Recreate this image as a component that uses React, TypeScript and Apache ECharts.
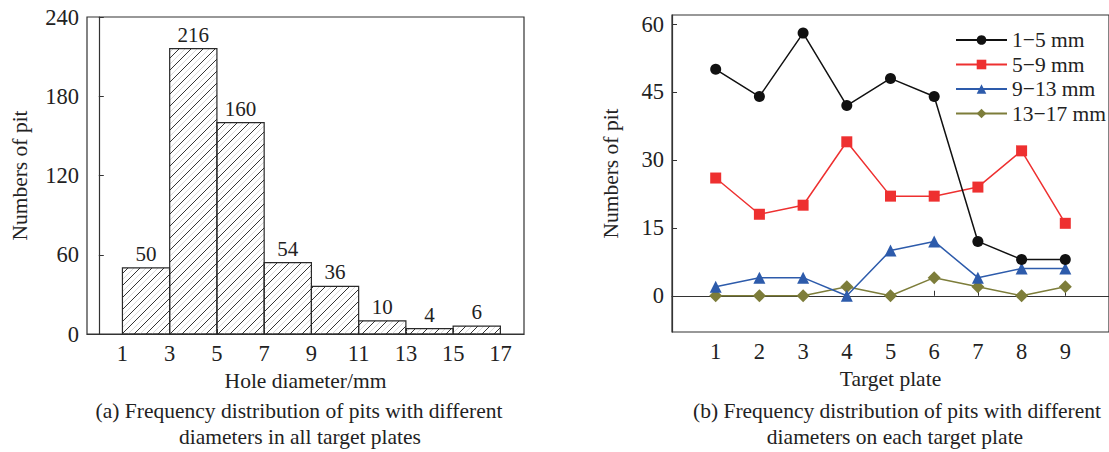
import React, { useEffect, useRef } from "react";
import * as echarts from "echarts";

// ---- Data ----
const binEdges = [1, 3, 5, 7, 9, 11, 13, 15, 17];
const binCounts = [50, 216, 160, 54, 36, 10, 4, 6];
const histYTicks = [0, 60, 120, 180, 240];

const plates = [1, 2, 3, 4, 5, 6, 7, 8, 9];
const s1to5 = [50, 44, 58, 42, 48, 44, 12, 8, 8];
const s5to9 = [26, 18, 20, 34, 22, 22, 24, 32, 16];
const s9to13 = [2, 4, 4, 0, 10, 12, 4, 6, 6];
const s13to17 = [0, 0, 0, 2, 0, 4, 2, 0, 2];
const lineYTicks = [0, 15, 30, 45, 60];

const seriesNames = ["1\u22125 mm", "5\u22129 mm", "9\u221213 mm", "13\u221217 mm"];

const FONT = "'Liberation Serif', 'Times New Roman', serif";
const AX = "#333";
const TXT = "#222";
const TICK_FS = 22.5;
const NAME_FS = 21.5;
const CAP_FS = 21.5;

export default function App() {
  const ref = useRef<HTMLDivElement>(null);

  useEffect(() => {
    if (!ref.current) return;
    const chart = echarts.init(ref.current, null, { renderer: "svg" });

    const histData = binCounts.map((v, i) => [binEdges[i], binEdges[i + 1], v]);

    const renderBar = (params: any, api: any) => {
      const x0 = api.value(0);
      const x1 = api.value(1);
      const v = api.value(2);
      const p0 = api.coord([x0, 0]);
      const p1 = api.coord([x1, v]);
      const left = p0[0];
      const right = p1[0];
      const top = p1[1];
      const bottom = p0[1];
      const children: any[] = [];
      const step = 12;
      const addLines = (offset: number, color: string, w: number) => {
        const cMin = left + top;
        const cMax = right + bottom;
        for (let c = Math.ceil((cMin - offset) / step) * step + offset; c <= cMax; c += step) {
          const lo = Math.max(left, c - bottom);
          const hi = Math.min(right, c - top);
          if (hi - lo > 0.5) {
            children.push({
              type: "line",
              shape: { x1: lo, y1: c - lo, x2: hi, y2: c - hi },
              style: { stroke: color, lineWidth: w },
              silent: true,
            });
          }
        }
      };
      addLines(6, "#cfcfcf", 0.8);
      addLines(0, "#333333", 1);
      children.push({
        type: "rect",
        shape: { x: left, y: top, width: right - left, height: bottom - top },
        style: { fill: "none", stroke: "#2a2a2a", lineWidth: 1.2 },
      });
      children.push({
        type: "text",
        x: (left + right) / 2,
        y: top - 14,
        style: {
          text: String(v),
          align: "center",
          verticalAlign: "middle",
          fontSize: 21,
          fontFamily: FONT,
          fill: TXT,
        },
      });
      return { type: "group", children };
    };

    const axisCommon = {
      axisLine: { show: true, lineStyle: { color: AX, width: 1.2 } },
      splitLine: { show: false },
    };

    const lineSeries = [s1to5, s5to9, s9to13, s13to17];
    const colors = ["#111111", "#ee3030", "#2d5bab", "#7d7d3a"];
    const symbols = ["circle", "rect", "triangle", "diamond"];
    const sizes = [11, 11, 12, 13];

    chart.setOption({
      animation: false,
      backgroundColor: "#ffffff",
      textStyle: { fontFamily: FONT },
      grid: [
        { left: 87, top: 17, width: 437, height: 317, show: true, borderColor: AX, borderWidth: 1.2, backgroundColor: "transparent" },
        { left: 672, top: 15, width: 440, height: 317, show: true, borderColor: AX, borderWidth: 1.2, backgroundColor: "transparent" },
      ],
      xAxis: [
        {
          ...axisCommon,
          type: "value",
          gridIndex: 0,
          min: -0.5,
          max: 18,
          axisTick: { show: true, inside: true, length: 5, customValues: binEdges, lineStyle: { color: AX } },
          axisLabel: { customValues: binEdges, margin: 8, fontSize: TICK_FS, color: TXT, fontFamily: FONT },
          name: "Hole diameter/mm",
          nameLocation: "middle",
          nameGap: 36,
          nameTextStyle: { fontSize: NAME_FS, color: TXT, fontFamily: FONT },
        },
        {
          ...axisCommon,
          type: "value",
          gridIndex: 1,
          min: 0,
          max: 10,
          axisTick: { show: true, inside: true, length: 5, customValues: plates, lineStyle: { color: AX } },
          axisLabel: { customValues: plates, margin: 8, fontSize: TICK_FS, color: TXT, fontFamily: FONT },
          name: "Target plate",
          nameLocation: "middle",
          nameGap: 36,
          nameTextStyle: { fontSize: NAME_FS, color: TXT, fontFamily: FONT },
        },
      ],
      yAxis: [
        {
          ...axisCommon,
          type: "value",
          gridIndex: 0,
          min: 0,
          max: 240,
          interval: 60,
          axisTick: { show: true, inside: true, length: 5, customValues: histYTicks, lineStyle: { color: AX } },
          axisLabel: { customValues: histYTicks, margin: 8, fontSize: TICK_FS, color: TXT, fontFamily: FONT },
          name: "Numbers of pit",
          nameLocation: "middle",
          nameGap: 56,
          nameTextStyle: { fontSize: NAME_FS, color: TXT, fontFamily: FONT },
        },
        {
          ...axisCommon,
          type: "value",
          gridIndex: 1,
          min: -8,
          max: 62,
          axisTick: { show: true, inside: true, length: 5, customValues: lineYTicks, lineStyle: { color: AX } },
          axisLabel: { customValues: lineYTicks, margin: 8, fontSize: TICK_FS, color: TXT, fontFamily: FONT },
          name: "Numbers of pit",
          nameLocation: "middle",
          nameGap: 50,
          nameTextStyle: { fontSize: NAME_FS, color: TXT, fontFamily: FONT },
        },
      ],
      legend: {
        left: 950,
        top: 24,
        orient: "vertical",
        itemWidth: 51,
        itemHeight: 12,
        itemGap: 2.5,
        data: seriesNames,
        textStyle: { fontSize: 21.5, color: TXT, fontFamily: FONT, lineHeight: 22 },
      },
      series: [
        {
          type: "custom",
          xAxisIndex: 0,
          yAxisIndex: 0,
          renderItem: renderBar,
          encode: { x: [0, 1], y: 2 },
          clip: false,
          data: histData,
        },
        ...lineSeries.map((arr, i) => ({
          type: "line",
          name: seriesNames[i],
          xAxisIndex: 1,
          yAxisIndex: 1,
          data: arr.map((v, j) => [plates[j], v]),
          symbol: symbols[i],
          symbolSize: sizes[i],
          showAllSymbol: true,
          color: colors[i],
          lineStyle: { color: colors[i], width: 1.5 },
          itemStyle: { color: colors[i] },
          z: 10 - i,
        })),
      ],
      graphic: [
        {
          type: "text",
          x: 299,
          y: 411,
          style: { text: "(a) Frequency distribution of pits with different", align: "center", verticalAlign: "middle", fontSize: CAP_FS, fontFamily: FONT, fill: TXT },
        },
        {
          type: "text",
          x: 300,
          y: 437,
          style: { text: "diameters in all target plates", align: "center", verticalAlign: "middle", fontSize: CAP_FS, fontFamily: FONT, fill: TXT },
        },
        {
          type: "text",
          x: 897,
          y: 411,
          style: { text: "(b) Frequency distribution of pits with different", align: "center", verticalAlign: "middle", fontSize: CAP_FS, fontFamily: FONT, fill: TXT },
        },
        {
          type: "text",
          x: 895,
          y: 437,
          style: { text: "diameters on each target plate", align: "center", verticalAlign: "middle", fontSize: CAP_FS, fontFamily: FONT, fill: TXT },
        },
      ],
    });

    return () => chart.dispose();
  }, []);

  return (
    <div
      ref={ref}
      style={{ position: "absolute", left: 0, top: 0, width: 1109, height: 452 }}
    />
  );
}
